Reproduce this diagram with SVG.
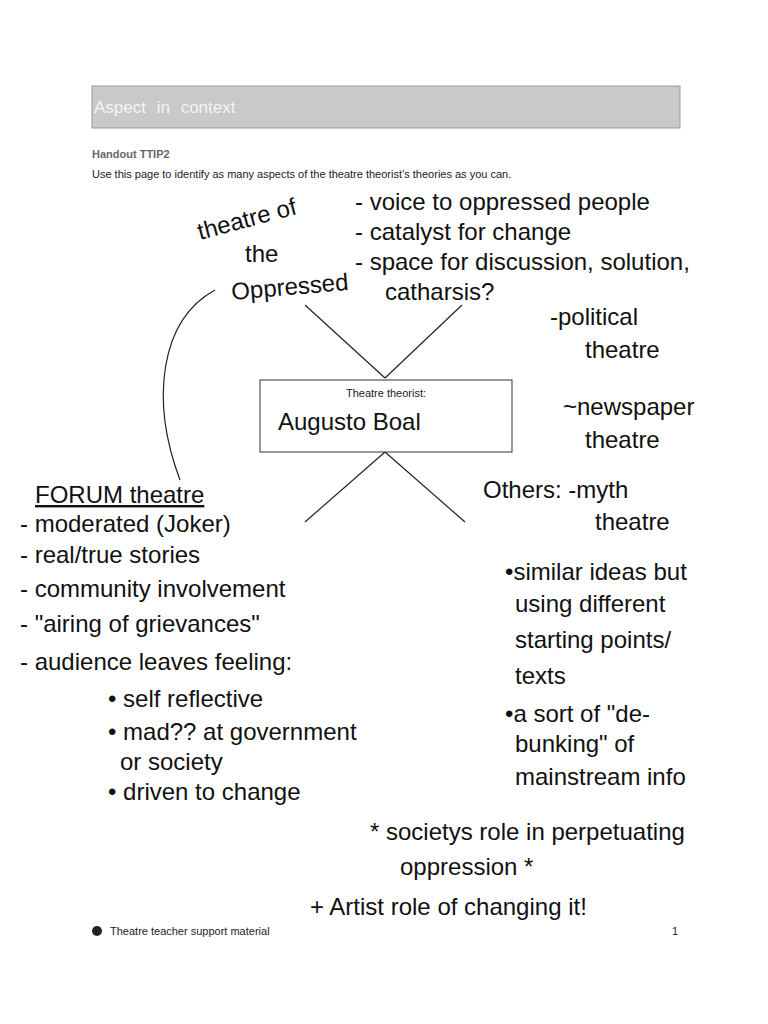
<svg xmlns="http://www.w3.org/2000/svg" width="768" height="1024" viewBox="0 0 768 1024">
<style>
.h{font-family:"Liberation Sans",sans-serif;fill:#111;font-size:24px}
.p{font-family:"Liberation Sans",sans-serif;fill:#222;font-size:11px}
.ln{stroke:#222;stroke-width:1.2;fill:none}
</style>
<rect width="768" height="1024" fill="#fff"/>
<rect x="92" y="86" width="588" height="42" fill="#c9c9c9" stroke="#999"/>
<text x="94" y="113" font-family="Liberation Sans,sans-serif" font-size="17" fill="#f4f4f4" word-spacing="6">Aspect in context</text>
<text x="92" y="158" class="p" font-weight="bold" style="fill:#666">Handout TTIP2</text>
<text x="92" y="178" class="p">Use this page to identify as many aspects of the theatre theorist’s theories as you can.</text>
<g id="diagram">
<line class="ln" x1="305" y1="305" x2="385" y2="378"/>
<line class="ln" x1="462" y1="305" x2="385" y2="378"/>
<line class="ln" x1="385" y1="452" x2="305" y2="522"/>
<line class="ln" x1="385" y1="452" x2="465" y2="522"/>
<rect x="260" y="380" width="252" height="72" fill="#fff" stroke="#333"/>
<text x="386" y="397" text-anchor="middle" class="p" font-size="9">Theatre theorist:</text>
<text x="278" y="430" class="h" font-size="30">Augusto  Boal</text>
<path class="ln" d="M215,290 C160,320 150,400 180,480"/>
</g>
<g id="text">
<text x="200" y="240" class="h" transform="rotate(-15 200 240)">theatre of</text>
<text x="245" y="262" class="h" font-size="20">the</text>
<text x="232" y="300" class="h" font-size="28" transform="rotate(-5 232 300)">Oppressed</text>
<text x="355" y="210" class="h">- voice to oppressed people</text>
<text x="355" y="240" class="h">- catalyst  for change</text>
<text x="355" y="270" class="h">- space for discussion, solution,</text>
<text x="385" y="300" class="h">catharsis?</text>
<text x="550" y="325" class="h" font-size="28">-political</text>
<text x="585" y="358" class="h" font-size="28">theatre</text>
<text x="563" y="415" class="h">~newspaper</text>
<text x="585" y="448" class="h">theatre</text>
<text x="483" y="498" class="h">Others: -myth</text>
<text x="595" y="530" class="h">theatre</text>
<text x="35" y="503" class="h" text-decoration="underline">FORUM theatre</text>
<text x="20" y="532" class="h">- moderated (Joker)</text>
<text x="20" y="563" class="h">- real/true stories</text>
<text x="20" y="597" class="h">- community involvement</text>
<text x="20" y="632" class="h">- "airing of grievances"</text>
<text x="20" y="670" class="h">- audience leaves feeling:</text>
<text x="108" y="707" class="h">• self reflective</text>
<text x="108" y="740" class="h">• mad?? at government</text>
<text x="120" y="770" class="h">or society</text>
<text x="108" y="800" class="h">• driven to change</text>
<text x="505" y="580" class="h">•similar ideas but</text>
<text x="515" y="612" class="h">using different</text>
<text x="515" y="648" class="h">starting points/</text>
<text x="515" y="684" class="h">texts</text>
<text x="505" y="722" class="h">•a sort of "de-</text>
<text x="515" y="752" class="h">bunking" of</text>
<text x="515" y="785" class="h">mainstream info</text>
<text x="370" y="840" class="h" font-size="28">* societys role in perpetuating</text>
<text x="400" y="875" class="h" font-size="28">oppression *</text>
<text x="310" y="915" class="h" font-size="30">+ Artist role of changing it!</text>
</g>
<circle cx="97" cy="931" r="5" fill="#222"/>
<text x="110" y="935" class="p" font-size="9">Theatre teacher support material</text>
<text x="672" y="935" class="p" font-size="9">1</text>
</svg>
